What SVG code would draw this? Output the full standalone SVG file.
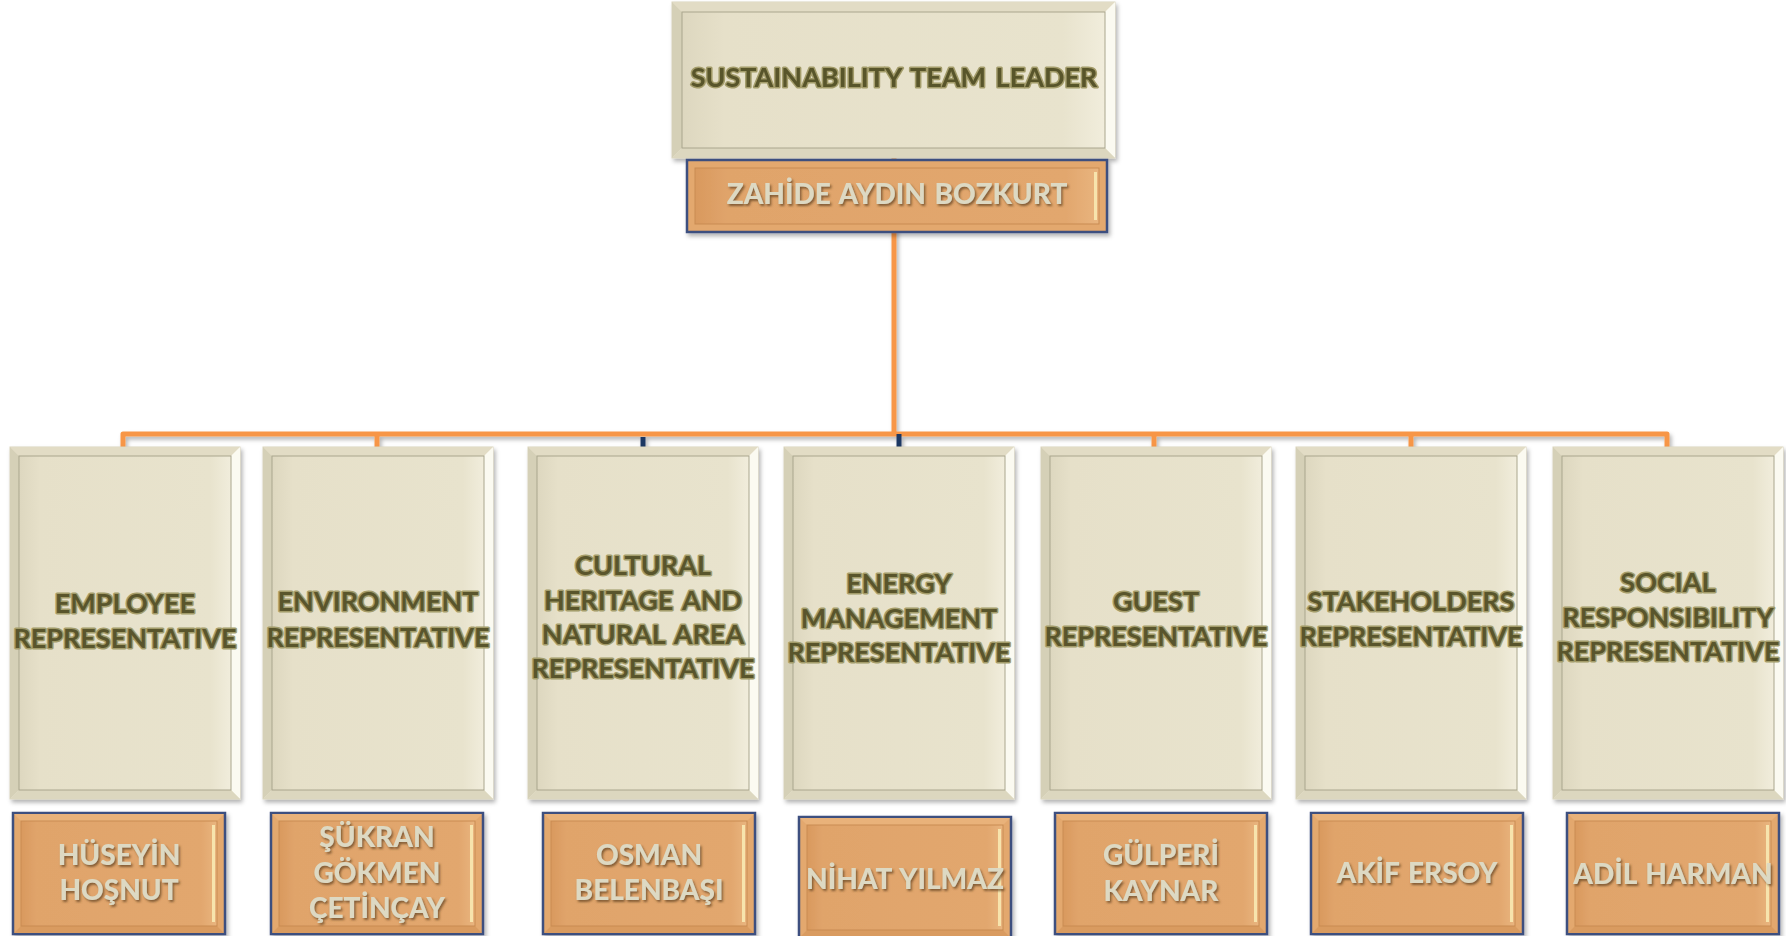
<svg xmlns="http://www.w3.org/2000/svg" xmlns:xlink="http://www.w3.org/1999/xlink" width="1786" height="936" viewBox="0 0 1786 936">
<style>
.t{font-family:Lato,"Open Sans","Liberation Sans",sans-serif;font-weight:700;font-size:27px;text-anchor:middle;fill:#59552c;stroke:#a39c6a;stroke-width:3px;paint-order:stroke;stroke-linejoin:round;word-spacing:3px}
.n{font-family:Lato,"Open Sans","Liberation Sans",sans-serif;font-weight:900;font-size:28px;text-anchor:middle;fill:#ddd9c3;word-spacing:2px}
.ln{fill:none;stroke:#f79646;stroke-width:5;stroke-linejoin:round}
.tick{fill:none;stroke:#1f3864;stroke-width:5}
</style>
<defs>
<filter id="sh" x="-10%" y="-10%" width="130%" height="130%">
<feDropShadow dx="2" dy="3" stdDeviation="2" flood-color="#000" flood-opacity="0.3"/>
</filter>
<filter id="tsh" x="-10%" y="-20%" width="120%" height="150%">
<feDropShadow dx="1.5" dy="2" stdDeviation="1" flood-color="#5a3a1a" flood-opacity="0.7"/>
</filter>
<linearGradient id="cin" x1="0" y1="0" x2="1" y2="0">
<stop offset="0" stop-color="#ddd7bf"/><stop offset="0.1" stop-color="#e6e0c9"/><stop offset="0.9" stop-color="#e8e3cd"/><stop offset="1" stop-color="#f1eddc"/>
</linearGradient>
<linearGradient id="oin" x1="0" y1="0" x2="1" y2="0">
<stop offset="0" stop-color="#d9995e"/><stop offset="0.08" stop-color="#e0a46b"/><stop offset="0.92" stop-color="#e2a76e"/><stop offset="1" stop-color="#e9b57f"/>
</linearGradient>
<g id="cbox">
<rect x="0" y="0" width="230" height="352" fill="#ebe6d1" stroke="#d9d4bd" stroke-width="1"/>
<polygon points="0,0 230,0 221,9 9,9" fill="#e2dcc5"/>
<polygon points="0,0 9,9 9,343 0,352" fill="#d5d0b7"/>
<polygon points="230,0 230,352 221,343 221,9" fill="#fbfaf1"/>
<polygon points="0,352 230,352 221,343 9,343" fill="#dcd7bf"/>
<rect x="9" y="9" width="212" height="334" fill="url(#cin)" stroke="#aaa68e" stroke-width="1"/>
</g>
<g id="obox">
<rect x="0" y="0" width="212" height="121" fill="#e3a86e" stroke="#3d4f7f" stroke-width="2.5"/>
<polygon points="1,1 211,1 204,8 8,8" fill="#e9b27a"/>
<polygon points="1,120 211,120 204,113 8,113" fill="#d99b60"/>
<rect x="8" y="8" width="196" height="105" fill="url(#oin)" stroke="#c98b52" stroke-width="1"/>
<rect x="199" y="12" width="3" height="97" fill="#f7e4ad"/>
</g>
</defs>
<rect width="1786" height="936" fill="#ffffff"/>
<g id="connectors" filter="url(#sh)">
<path class="ln" d="M894,158 V434"/>
<path class="ln" d="M123,447 V434 H1667 V447"/>
<path class="ln" d="M377,434 V447"/>
<path class="ln" d="M1154,434 V447"/>
<path class="ln" d="M1411,434 V447"/>
<path class="tick" d="M643,437 V447"/>
<path class="tick" d="M899,434 V447"/>
</g>
<g id="leader" filter="url(#sh)">
<rect x="672" y="2" width="443" height="156" fill="#ebe6d1" stroke="#d9d4bd"/>
<polygon points="672,2 1115,2 1105,12 682,12" fill="#e2dcc5"/>
<polygon points="672,2 682,12 682,148 672,158" fill="#d5d0b7"/>
<polygon points="1115,2 1115,158 1105,148 1105,12" fill="#fbfaf1"/>
<polygon points="672,158 1115,158 1105,148 682,148" fill="#dcd7bf"/>
<rect x="682" y="12" width="423" height="136" fill="url(#cin)" stroke="#aaa68e"/>
<text class="t" x="894" y="87">SUSTAINABILITY TEAM LEADER</text>
</g>
<g id="leader-name" filter="url(#sh)">
<rect x="687" y="160" width="420" height="72" fill="#e3a86e" stroke="#3d4f7f" stroke-width="2.5"/>
<rect x="695" y="168" width="404" height="56" fill="url(#oin)" stroke="#c98b52"/>
<rect x="1094" y="172" width="3" height="48" fill="#f7e4ad"/>
<text class="n" x="897" y="204" filter="url(#tsh)">ZAHİDE AYDIN BOZKURT</text>
</g>
<g id="employee">
<use xlink:href="#cbox" x="10" y="447" filter="url(#sh)"/>
<text class="t" x="125" y="613">EMPLOYEE</text>
<text class="t" x="125" y="648">REPRESENTATIVE</text>
</g>
<g id="environment">
<use xlink:href="#cbox" x="263" y="447" filter="url(#sh)"/>
<text class="t" x="378" y="611">ENVIRONMENT</text>
<text class="t" x="378" y="647">REPRESENTATIVE</text>
</g>
<g id="cultural">
<use xlink:href="#cbox" x="528" y="447" filter="url(#sh)"/>
<text class="t" x="643" y="575">CULTURAL</text>
<text class="t" x="643" y="610">HERITAGE AND</text>
<text class="t" x="643" y="644">NATURAL AREA</text>
<text class="t" x="643" y="678">REPRESENTATIVE</text>
</g>
<g id="energy">
<use xlink:href="#cbox" x="784" y="447" filter="url(#sh)"/>
<text class="t" x="899" y="593">ENERGY</text>
<text class="t" x="899" y="628">MANAGEMENT</text>
<text class="t" x="899" y="662">REPRESENTATIVE</text>
</g>
<g id="guest">
<use xlink:href="#cbox" x="1041" y="447" filter="url(#sh)"/>
<text class="t" x="1156" y="611">GUEST</text>
<text class="t" x="1156" y="646">REPRESENTATIVE</text>
</g>
<g id="stakeholders">
<use xlink:href="#cbox" x="1296" y="447" filter="url(#sh)"/>
<text class="t" x="1411" y="611">STAKEHOLDERS</text>
<text class="t" x="1411" y="646">REPRESENTATIVE</text>
</g>
<g id="social">
<use xlink:href="#cbox" x="1553" y="447" filter="url(#sh)"/>
<text class="t" x="1668" y="592">SOCIAL</text>
<text class="t" x="1668" y="627">RESPONSIBILITY</text>
<text class="t" x="1668" y="661">REPRESENTATIVE</text>
</g>
<g id="name-huseyin">
<use xlink:href="#obox" x="13" y="813" filter="url(#sh)"/>
<text class="n" x="119" y="865" filter="url(#tsh)">HÜSEYİN</text>
<text class="n" x="119" y="900" filter="url(#tsh)">HOŞNUT</text>
</g>
<g id="name-sukran">
<use xlink:href="#obox" x="271" y="813" filter="url(#sh)"/>
<text class="n" x="377" y="847" filter="url(#tsh)">ŞÜKRAN</text>
<text class="n" x="377" y="883" filter="url(#tsh)">GÖKMEN</text>
<text class="n" x="377" y="918" filter="url(#tsh)">ÇETİNÇAY</text>
</g>
<g id="name-osman">
<use xlink:href="#obox" x="543" y="813" filter="url(#sh)"/>
<text class="n" x="649" y="865" filter="url(#tsh)">OSMAN</text>
<text class="n" x="649" y="900" filter="url(#tsh)">BELENBAŞI</text>
</g>
<g id="name-nihat">
<use xlink:href="#obox" x="799" y="817" filter="url(#sh)"/>
<text class="n" x="905" y="889" filter="url(#tsh)">NİHAT YILMAZ</text>
</g>
<g id="name-gulperi">
<use xlink:href="#obox" x="1055" y="813" filter="url(#sh)"/>
<text class="n" x="1161" y="865" filter="url(#tsh)">GÜLPERİ</text>
<text class="n" x="1161" y="901" filter="url(#tsh)">KAYNAR</text>
</g>
<g id="name-akif">
<use xlink:href="#obox" x="1311" y="813" filter="url(#sh)"/>
<text class="n" x="1417" y="883" filter="url(#tsh)">AKİF ERSOY</text>
</g>
<g id="name-adil">
<use xlink:href="#obox" x="1567" y="813" filter="url(#sh)"/>
<text class="n" x="1673" y="884" filter="url(#tsh)">ADİL HARMAN</text>
</g>
</svg>
